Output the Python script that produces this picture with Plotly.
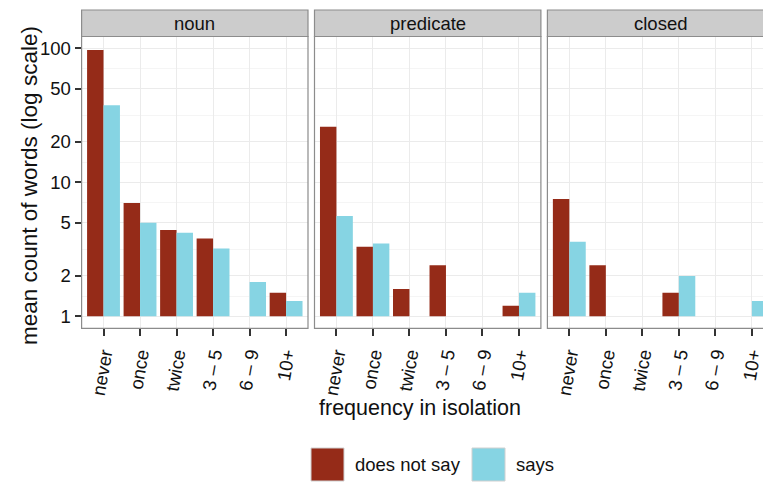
import numpy as np
import plotly.graph_objects as go

# Frequency bins (shared x categories for every facet)
categories = ["never", "once", "twice", "3 – 5", "6 – 9", "10+"]
facets = ["noun", "predicate", "closed"]
series_names = ["does not say", "says"]
series_colors = ["#952B18", "#86D4E3"]

# Mean count of words per bin (None = no words in that bin)
noun_not_say = [97, 7.0, 4.4, 3.8, 1.0, 1.5]
noun_says = [37.6, 5.0, 4.2, 3.2, 1.8, 1.3]
predicate_not_say = [26, 3.3, 1.6, 2.4, 1.0, 1.2]
predicate_says = [5.6, 3.5, None, None, None, 1.5]
closed_not_say = [7.5, 2.4, 1.0, 1.5, 1.0, 1.0]
closed_says = [3.6, None, None, 2.0, None, 1.3]

y_breaks = [1, 2, 5, 10, 20, 50, 100]

facet_data = [
    (noun_not_say, noun_says),
    (predicate_not_say, predicate_says),
    (closed_not_say, closed_says),
]

W, H = 763, 483
FONT = "Liberation Sans, Arial, Helvetica, sans-serif"

# panel geometry (pixels)
panel_left = [81.6, 314.5, 547.4]
panel_w = 226.4
panel_top, panel_bot = 36.5, 328.3
strip_top = 10.0
unit_px = panel_w / 6.2


def log10(vals):
    return [None if v is None else float(np.log10(v)) for v in vals]


# log10 transformed scale: bars rise from 1 (log 0)
log_breaks = [float(np.log10(b)) for b in y_breaks]
minor_breaks = [(a + b) / 2 for a, b in zip(log_breaks[:-1], log_breaks[1:])]
y_range = [-0.0896, 2.088]

fig = go.Figure()

for i, (facet, series) in enumerate(zip(facets, facet_data)):
    xa = "x" if i == 0 else f"x{i + 1}"
    ya = "y" if i == 0 else f"y{i + 1}"
    for name, color, vals in zip(series_names, series_colors, series):
        fig.add_trace(go.Bar(
            x=categories, y=log10(vals), name=name,
            marker=dict(color=color, line=dict(width=0)),
            xaxis=xa, yaxis=ya, showlegend=False,
            customdata=vals,
            hovertemplate="%{x}: %{customdata}<extra>" + name + "</extra>",
        ))

layout = dict(
    width=W, height=H,
    margin=dict(l=0, r=0, t=0, b=0),
    paper_bgcolor="white", plot_bgcolor="white",
    barmode="group", bargap=0.1, bargroupgap=0.0,
    font=dict(family=FONT, size=18, color="#111111"),
    showlegend=False,
)

y_dom = [1 - panel_bot / H, 1 - panel_top / H]
for i in range(3):
    left = panel_left[i]
    right = min(left + panel_w, W)
    x_hi = -0.6 + (right - left) / unit_px
    key = "xaxis" if i == 0 else f"xaxis{i + 1}"
    ykey = "yaxis" if i == 0 else f"yaxis{i + 1}"
    layout[key] = dict(
        domain=[left / W, right / W],
        anchor="y" if i == 0 else f"y{i + 1}",
        type="category", categoryorder="array", categoryarray=categories,
        range=[-0.6, x_hi],
        showgrid=True, gridcolor="#EBEBEB", gridwidth=1.2,
        ticks="outside", ticklen=7, tickwidth=1.6, tickcolor="#333333",
        tickangle=-80, tickfont=dict(size=18.5, color="#111111"),
        showline=False, zeroline=False, automargin=False, fixedrange=True,
    )
    layout[ykey] = dict(
        domain=y_dom,
        anchor="x" if i == 0 else f"x{i + 1}",
        range=y_range,
        tickmode="array", tickvals=log_breaks,
        ticktext=[str(b) for b in y_breaks],
        showticklabels=(i == 0),
        ticks="outside" if i == 0 else "", ticklen=6, tickwidth=1.6,
        tickcolor="#333333", tickfont=dict(size=18.5, color="#111111"),
        showgrid=True, gridcolor="#EBEBEB", gridwidth=1.2,
        minor=dict(tickmode="array", tickvals=minor_breaks, showgrid=True,
                   gridcolor="#F5F5F5", gridwidth=1.2, ticks=""),
        zeroline=False, showline=False, automargin=False, fixedrange=True,
    )

shapes = []
annotations = []
for i, facet in enumerate(facets):
    left = panel_left[i]
    right = left + panel_w
    # panel border
    shapes.append(dict(type="rect", xref="paper", yref="paper",
                       x0=left / W, x1=right / W,
                       y0=1 - panel_bot / H, y1=1 - panel_top / H,
                       line=dict(color="#8C8C8C", width=1.2),
                       fillcolor="rgba(0,0,0,0)", layer="above"))
    # facet strip
    shapes.append(dict(type="rect", xref="paper", yref="paper",
                       x0=left / W, x1=right / W,
                       y0=1 - panel_top / H, y1=1 - strip_top / H,
                       line=dict(color="#8C8C8C", width=1.2),
                       fillcolor="#CCCCCC", layer="above"))
    annotations.append(dict(text=facet, xref="paper", yref="paper",
                            x=(left + right) / 2 / W,
                            y=1 - (strip_top + panel_top) / 2 / H,
                            showarrow=False, xanchor="center", yanchor="middle",
                            font=dict(size=18.5, color="#111111")))

# axis titles
annotations.append(dict(text="frequency in isolation", xref="paper", yref="paper",
                        x=420 / W, y=1 - 408 / H, showarrow=False,
                        xanchor="center", yanchor="middle",
                        font=dict(size=21.5, color="#111111")))
annotations.append(dict(text="mean count of words (log scale)", xref="paper",
                        yref="paper", x=29 / W, y=1 - 186 / H, showarrow=False,
                        textangle=-90, xanchor="center", yanchor="middle",
                        font=dict(size=22.5, color="#111111")))

# legend keys
legend_x = [311, 472]
key_size = 33
legend_y0 = 448
for x0, name, color in zip(legend_x, series_names, series_colors):
    shapes.append(dict(type="rect", xref="paper", yref="paper",
                       x0=x0 / W, x1=(x0 + key_size) / W,
                       y0=1 - (legend_y0 + key_size) / H, y1=1 - legend_y0 / H,
                       line=dict(color="#D0D0D0", width=1), fillcolor=color))
    annotations.append(dict(text=name, xref="paper", yref="paper",
                            x=(x0 + key_size + 9) / W,
                            y=1 - (legend_y0 + key_size / 2) / H,
                            showarrow=False, xanchor="left", yanchor="middle",
                            font=dict(size=18.5, color="#111111")))

layout["shapes"] = shapes
layout["annotations"] = annotations
fig.update_layout(**layout)

fig.write_html("out.html")
